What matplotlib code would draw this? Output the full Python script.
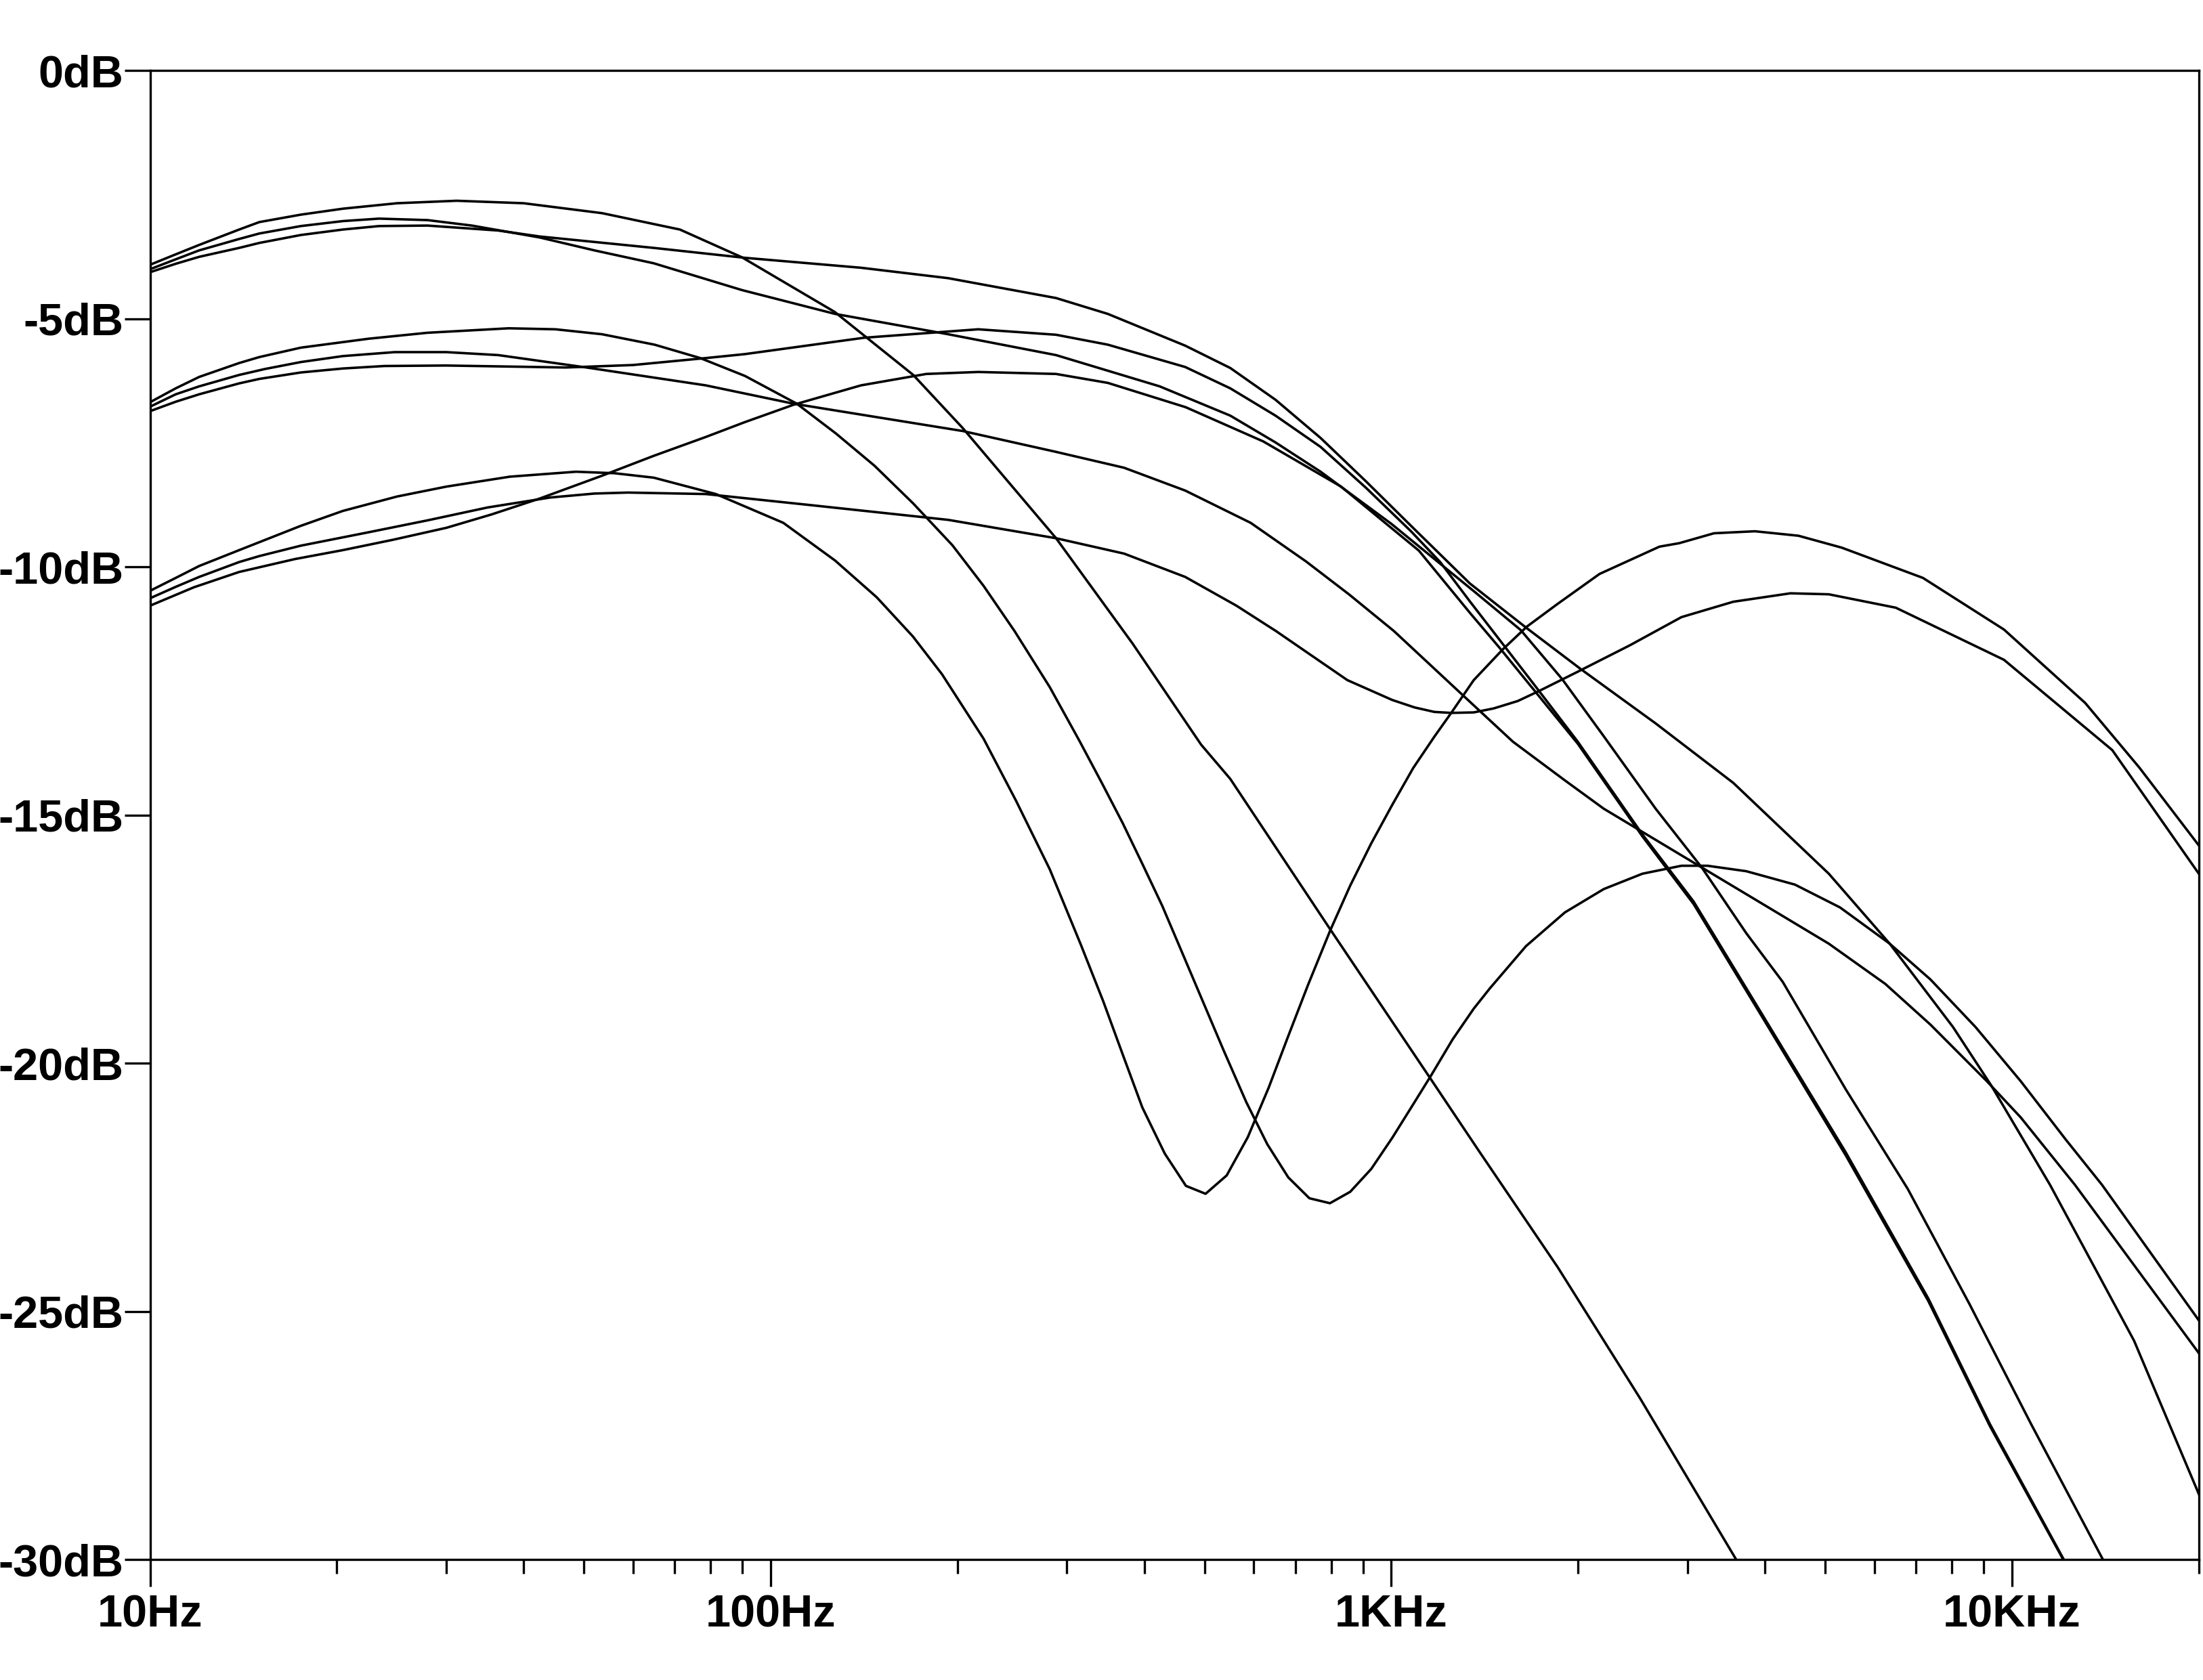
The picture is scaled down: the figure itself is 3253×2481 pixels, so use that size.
import matplotlib
matplotlib.use("Agg")
import matplotlib.pyplot as plt
from matplotlib.ticker import FixedLocator, NullFormatter

# ---- data (frequency in Hz, level in dB) ----
# group A: curves starting near -4 dB at 10 Hz
a1_freq = [10, 11, 12, 13.92, 15, 17.5, 20.45, 25, 31.19, 40, 53.5, 71.4, 89.9,
           126.8, 169.7, 203.9, 288.3, 382.8, 493.8, 550.2, 798, 1155, 1384.5,
           1854, 2516, 3630]
a1_db = [-3.91, -3.70, -3.51, -3.20, -3.05, -2.90, -2.78, -2.67, -2.62, -2.67, -2.87, -3.20, -3.76,
         -4.86, -6.13, -7.20, -9.42, -11.54, -13.58, -14.27, -17.31, -20.30, -21.77,
         -24.11, -26.75, -30.09]

a2_freq = [10, 11, 12, 13.92, 15, 17.5, 20.45, 23.39, 28, 33, 42.45, 52, 64.8, 89.9,
           127.0, 193.2, 288.2, 423.4, 550.2, 650.7, 769.2, 1000, 1359, 1616, 1885,
           2199, 2666, 3170, 3732, 4272, 5400, 6792, 8540, 10735, 14136]
a2_db = [-4.00, -3.80, -3.62, -3.39, -3.28, -3.13, -3.03, -2.98, -3.01, -3.12, -3.36, -3.62, -3.88, -4.42,
         -4.90, -5.31, -5.73, -6.36, -6.95, -7.49, -8.08, -9.13, -10.49, -11.27, -12.26,
         -13.41, -14.87, -16.07, -17.38, -18.36, -20.53, -22.53, -24.85, -27.27, -30.09]

a3_freq = [10, 11, 12, 13.92, 15, 17.5, 20.45, 23.39, 28, 36.39, 42.45, 64.8, 90.9,
           139.8, 193.2, 288.2, 349.3, 465.5, 550.2, 650.7, 769.2, 909.5, 1075.7,
           1337.7, 1648, 2016, 2665, 3556, 5068, 6353, 8035, 9262, 11516, 15729, 20000]
a3_db = [-4.06, -3.89, -3.75, -3.57, -3.47, -3.31, -3.20, -3.13, -3.12, -3.22, -3.34, -3.57, -3.77,
         -3.97, -4.18, -4.58, -4.90, -5.54, -5.99, -6.63, -7.40, -8.27, -9.17,
         -10.33, -11.22, -12.05, -13.15, -14.35, -16.18, -17.59, -19.27, -20.45, -22.45, -25.59, -28.68]

# group B: curves starting near -6.8 dB
b1_freq = [10, 11, 12, 13.92, 15, 17.5, 22.5, 28, 37.83, 45, 53.5, 65, 77.0, 90.9,
           110.2, 127.4, 147.0, 169.7, 196.2, 220.3, 247.1, 281.6, 314.3, 341.6,
           369.1, 397.0, 427.2, 459.5, 494.1, 537.2, 583.7, 631.1, 682.3, 737.9,
           796.3, 858.5, 928.1, 1003.7, 1079.2, 1161.0, 1255.1, 1357.5, 1441.4,
           1648, 1904, 2199, 2539, 2934, 3232, 3732, 4470, 5284, 6353, 7388, 8735,
           10328, 12213, 13966, 20000]
b1_db = [-6.68, -6.40, -6.17, -5.89, -5.77, -5.58, -5.40, -5.28, -5.19, -5.21, -5.31, -5.52, -5.79, -6.15,
         -6.71, -7.31, -7.96, -8.72, -9.56, -10.38, -11.29, -12.42, -13.50, -14.35,
         -15.16, -15.98, -16.82, -17.75, -18.68, -19.75, -20.78, -21.63, -22.30, -22.72,
         -22.82, -22.59, -22.13, -21.50, -20.87, -20.23, -19.52, -18.90, -18.49,
         -17.64, -16.96, -16.49, -16.18, -16.02, -16.02, -16.13, -16.40, -16.86, -17.59, -18.31, -19.27,
         -20.36, -21.54, -22.45, -25.18]

b2_freq = [10, 11, 12, 13.92, 15.32, 17.5, 20.45, 24.79, 30, 36.39, 50.5, 78.6, 108.9,
           203.9, 288.2, 371.0, 465.5, 593.4, 729.1, 854.4, 1009.5, 1308, 1570, 1904,
           2199, 2934, 3917, 5068, 6249, 7388, 9108, 10328, 12631, 20000]
b2_db = [-6.77, -6.52, -6.36, -6.13, -6.01, -5.87, -5.75, -5.67, -5.67, -5.73, -5.98, -6.34, -6.71,
         -7.26, -7.68, -8.00, -8.46, -9.11, -9.89, -10.55, -11.29, -12.60, -13.52, -14.30,
         -14.87, -15.81, -16.75, -17.59, -18.40, -19.22, -20.36, -21.09, -22.45, -25.84]

b3_freq = [10, 11, 12, 13.92, 15, 17.5, 20.45, 23.85, 30, 46.75, 60, 78.6, 90.9,
           141.5, 216.0, 288.2, 349.3, 465.5, 550.2, 650.7, 769.2, 909.5, 1075.7,
           1198.7, 1337.7, 1496.8, 1718, 1997, 2539, 3069, 3978, 5400, 7331, 9213, 12229]
b3_db = [-6.86, -6.67, -6.52, -6.30, -6.21, -6.08, -6.00, -5.95, -5.94, -5.98, -5.93, -5.79, -5.71,
         -5.38, -5.21, -5.32, -5.52, -5.97, -6.40, -6.95, -7.58, -8.40, -9.28,
         -9.90, -10.69, -11.48, -12.45, -13.52, -15.39, -16.74, -19.06, -21.80, -24.74, -27.27, -30.09]

# group C: curves starting near -10.7 dB
c1_freq = [10, 11, 12, 13.92, 15, 17.5, 20.45, 25, 30.03, 38, 48.57, 56, 64.8, 81.6,
           104.8, 127.0, 148.2, 169.5, 188.8, 220.3, 248.5, 281.6, 315.8, 343.4,
           369.1, 397.0, 431.5, 466.7, 502.0, 542.9, 587.1, 634.5, 682.3, 734.2, 798,
           858.5, 928.1, 1003.7, 1084.6, 1172.9, 1248.8, 1357.5, 1512, 1654, 1850,
           2165, 2704, 2910, 3311, 3854, 4528, 5317, 7187, 9707, 13122, 16036, 20000]
c1_db = [-10.48, -10.22, -9.98, -9.66, -9.50, -9.17, -8.87, -8.58, -8.38, -8.18, -8.08, -8.11, -8.20, -8.53,
         -9.11, -9.87, -10.61, -11.40, -12.16, -13.46, -14.71, -16.09, -17.60, -18.75,
         -19.82, -20.89, -21.82, -22.47, -22.63, -22.26, -21.49, -20.49, -19.45, -18.42, -17.31,
         -16.42, -15.57, -14.79, -14.05, -13.42, -12.94, -12.28, -11.66, -11.20, -10.75,
         -10.14, -9.59, -9.52, -9.32, -9.28, -9.37, -9.61, -10.22, -11.26, -12.74, -14.04, -15.61]

c2_freq = [10, 11, 12, 13.92, 15, 17.5, 22.5, 28, 35, 44.12, 52, 58.9, 78.6, 115.4,
           193.2, 288.2, 371.0, 465.5, 563.0, 651.7, 849.7, 1003.7, 1090.4, 1172.9,
           1248.8, 1357.5, 1461.8, 1599, 1729, 1997, 2421, 2934, 3556, 4395, 5068,
           6498, 9707, 14508, 20000]
c2_db = [-10.63, -10.40, -10.20, -9.90, -9.78, -9.57, -9.30, -9.06, -8.80, -8.60, -8.52, -8.50, -8.53, -8.75,
         -9.05, -9.42, -9.73, -10.20, -10.78, -11.29, -12.28, -12.68, -12.83, -12.92,
         -12.94, -12.93, -12.85, -12.70, -12.50, -12.11, -11.58, -11.01, -10.70, -10.53, -10.55,
         -10.82, -11.87, -13.69, -16.18]

c3_freq = [10, 11.76, 13.92, 17.12, 20.45, 24.66, 30.03, 35.52, 42.46, 53.5, 64.8,
           78.6, 90.9, 108.9, 139.8, 178.1, 216.0, 288.2, 349.3, 466.3, 621.9, 829.9,
           1107.6, 1337.7, 1496.8, 1997, 2539, 3069, 3978, 5400, 7331, 9213, 12229]
c3_db = [-10.78, -10.41, -10.10, -9.84, -9.66, -9.45, -9.21, -8.94, -8.62, -8.16, -7.76,
         -7.38, -7.08, -6.73, -6.34, -6.11, -6.07, -6.11, -6.29, -6.78, -7.47, -8.38,
         -9.67, -10.92, -11.64, -13.56, -15.43, -16.79, -19.11, -21.86, -24.79, -27.31, -30.11]

# axis ticks
x_major = [10, 100, 1000, 10000]
x_major_labels = ["10Hz", "100Hz", "1KHz", "10KHz"]
x_minor = [20, 30, 40, 50, 60, 70, 80, 90,
           200, 300, 400, 500, 600, 700, 800, 900,
           2000, 3000, 4000, 5000, 6000, 7000, 8000, 9000, 20000]
y_major = [0, -5, -10, -15, -20, -25, -30]
y_major_labels = ["0dB", "-5dB", "-10dB", "-15dB", "-20dB", "-25dB", "-30dB"]


def plot_response(output_file="out.png"):
    plt.rcParams["font.family"] = ["Liberation Sans", "DejaVu Sans"]
    plt.rcParams["font.weight"] = "bold"

    fig = plt.figure(figsize=(32.53, 24.81), dpi=100)
    ax = fig.add_axes([0.0681, 0.0717, 0.9300, 0.8862])

    curves = [(a1_freq, a1_db), (a2_freq, a2_db), (a3_freq, a3_db),
              (b1_freq, b1_db), (b2_freq, b2_db), (b3_freq, b3_db),
              (c1_freq, c1_db), (c2_freq, c2_db), (c3_freq, c3_db)]
    for freq, db in curves:
        ax.plot(freq, db, color="black", linewidth=2.6)

    ax.set_xscale("log")
    ax.set_xlim(10, 20000)
    ax.set_ylim(-30, 0)

    ax.xaxis.set_major_locator(FixedLocator(x_major))
    ax.set_xticklabels(x_major_labels)
    ax.xaxis.set_minor_locator(FixedLocator(x_minor))
    ax.xaxis.set_minor_formatter(NullFormatter())
    ax.set_yticks(y_major)
    ax.set_yticklabels(y_major_labels)

    ax.tick_params(axis="x", which="major", direction="out", length=28.8,
                   width=2.4, pad=8, labelsize=48)
    ax.tick_params(axis="x", which="minor", direction="out", length=15, width=2.4)
    ax.tick_params(axis="y", which="major", direction="out", length=27.4,
                   width=2.4, pad=1, labelsize=48)
    ax.tick_params(axis="y", which="minor", left=False)

    for spine in ax.spines.values():
        spine.set_linewidth(2.4)

    fig.savefig(output_file, dpi=100)
    return fig


if __name__ == "__main__":
    plot_response()
